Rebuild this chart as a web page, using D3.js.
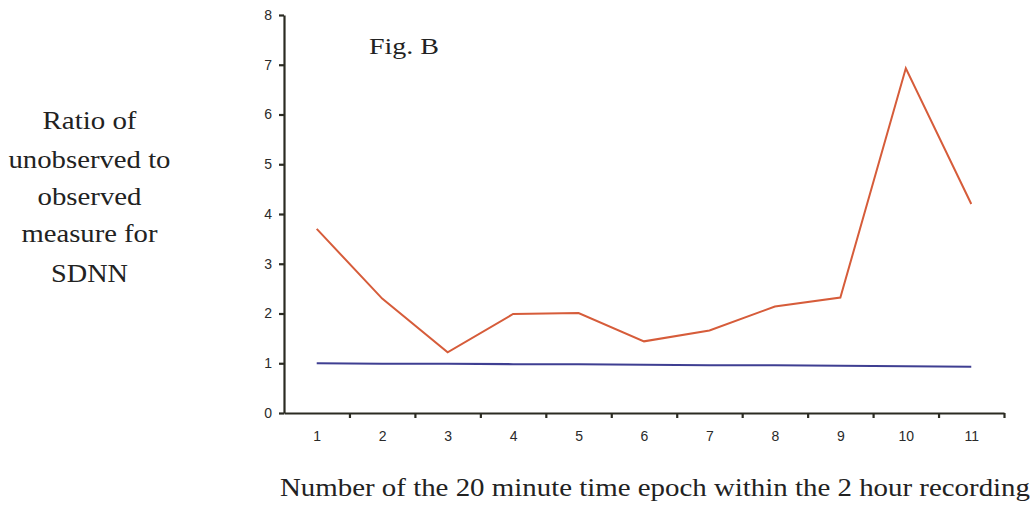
<!DOCTYPE html>
<html>
<head>
<meta charset="utf-8">
<script src="https://cdn.jsdelivr.net/npm/d3@7"></script>
<style>
  html, body { margin: 0; padding: 0; background: #fff; }
  svg { display: block; }
  .serif { font-family: "Liberation Serif", "Times New Roman", Times, "DejaVu Serif", serif; }
  .sans { font-family: "Liberation Sans", Arial, Helvetica, sans-serif; }
</style>
</head>
<body>
<svg id="chart" width="1035" height="505"></svg>
<script>
// Epoch numbers (20-minute epochs within the 2 hour recording)
const epochs = [1, 2, 3, 4, 5, 6, 7, 8, 9, 10, 11];
// Ratio of unobserved to observed SDNN
const ratioUnobserved = [3.70, 2.30, 1.22, 1.99, 2.01, 1.44, 1.66, 2.14, 2.32, 6.93, 4.20];
// Reference line (observed / observed)
const ratioReference = [1.00, 0.99, 0.99, 0.98, 0.98, 0.97, 0.96, 0.96, 0.95, 0.94, 0.93];
const yTicks = [0, 1, 2, 3, 4, 5, 6, 7, 8];
const yLabelLines = ["Ratio of", "unobserved to", "observed", "measure for", "SDNN"];

const svg = d3.select("#chart");
const axisColor = "#2b2b22";

const plotLeft = 284, plotRight = 1004, plotTop = 15, plotBottom = 413;

// Each epoch occupies one band; points sit at band centres
const x = d3.scaleLinear().domain([0.5, 11.5]).range([plotLeft, plotRight]);
const y = d3.scaleLinear().domain([0, 8]).range([plotBottom, plotTop]);

// Series lines
const line = d3.line().x((d, i) => x(epochs[i])).y(d => y(d));

svg.append("path")
  .datum(ratioReference)
  .attr("d", line)
  .attr("fill", "none")
  .attr("stroke", "#3f3f92")
  .attr("stroke-width", 2.2);

svg.append("path")
  .datum(ratioUnobserved)
  .attr("d", line)
  .attr("fill", "none")
  .attr("stroke", "#d65c3a")
  .attr("stroke-width", 2);

// Y axis
const yAxis = svg.append("g")
  .attr("transform", `translate(${plotLeft},0)`)
  .call(d3.axisLeft(y).tickValues(yTicks).tickFormat(d3.format("d")).tickSize(5).tickSizeOuter(0));

// X axis: tick marks on band boundaries
const boundaries = d3.range(1.5, 12, 1);
const xAxisTicks = svg.append("g")
  .attr("transform", `translate(0,${plotBottom})`)
  .call(d3.axisBottom(x).tickValues(boundaries).tickFormat("").tickSize(5).tickSizeOuter(0));

// X axis: labels at band centres
const xAxisLabels = svg.append("g")
  .attr("transform", `translate(0,${plotBottom})`)
  .call(d3.axisBottom(x).tickValues(epochs).tickFormat(d3.format("d")).tickSize(0).tickPadding(18));
xAxisLabels.select(".domain").remove();

[yAxis, xAxisTicks].forEach(g => {
  g.select(".domain").attr("stroke", axisColor).attr("stroke-width", 2.2);
  g.selectAll(".tick line").attr("stroke", axisColor).attr("stroke-width", 2.2);
});
[yAxis, xAxisLabels].forEach(g => {
  g.attr("font-family", null).attr("font-size", null);
  g.selectAll(".tick text")
    .attr("class", "sans")
    .attr("fill", "#2a2a2a")
    .style("font-size", "14px");
});
yAxis.selectAll(".tick text").attr("x", -12);

// Figure tag
svg.append("text")
  .attr("class", "serif")
  .attr("x", 369).attr("y", 54)
  .attr("textLength", 70).attr("lengthAdjust", "spacingAndGlyphs")
  .style("font-size", "24px")
  .attr("fill", "#222")
  .text("Fig. B");

// Y axis title (stacked lines)
const yLabelBaselines = [129, 168, 205, 242, 282];
const yLabelWidths = [94, 162, 104, 136, 77];
svg.append("g").selectAll("text")
  .data(yLabelLines)
  .join("text")
  .attr("class", "serif")
  .attr("x", 89.5)
  .attr("y", (d, i) => yLabelBaselines[i])
  .attr("text-anchor", "middle")
  .attr("textLength", (d, i) => yLabelWidths[i])
  .attr("lengthAdjust", "spacingAndGlyphs")
  .style("font-size", "25px")
  .attr("fill", "#222")
  .text(d => d);

// X axis title
svg.append("text")
  .attr("class", "serif")
  .attr("x", 280).attr("y", 496)
  .attr("textLength", 750).attr("lengthAdjust", "spacingAndGlyphs")
  .style("font-size", "26px")
  .attr("fill", "#222")
  .text("Number of the 20 minute time epoch within the 2 hour recording");
</script>
</body>
</html>
